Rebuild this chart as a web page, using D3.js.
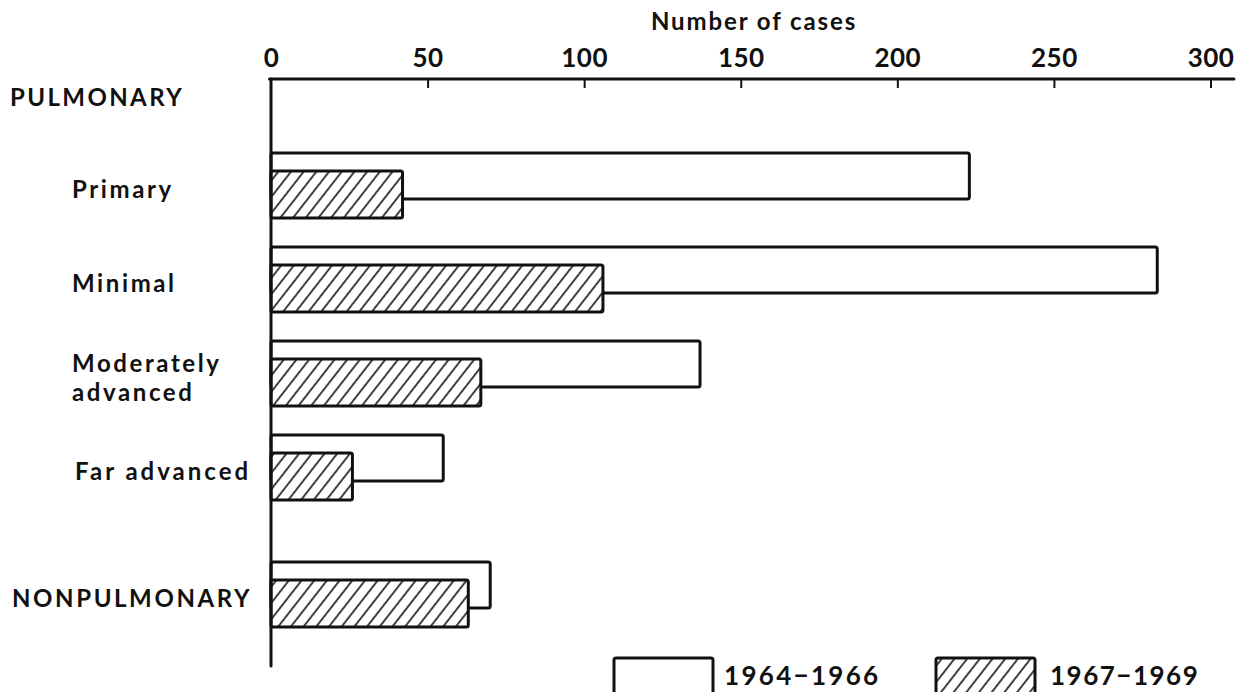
<!DOCTYPE html>
<html lang="en">
<head>
  <meta charset="UTF-8">
  <title>Number of cases</title>
  <style>
    * { margin: 0; padding: 0; box-sizing: border-box; }
    body { background: #fff; width: 1237px; height: 692px; overflow: hidden; }
    svg text { font-family: Lato, "DejaVu Sans", sans-serif; font-weight: 700; fill: #111; }
  </style>
</head>
<body>
  <div id="chart"></div>
  <script src="https://cdnjs.cloudflare.com/ajax/libs/d3/7.8.5/d3.min.js"></script>
  <script>
    // data
    const categories = ["Primary", "Minimal", "Moderately advanced", "Far advanced", "NONPULMONARY"];
    const labelLines = [["Primary"], ["Minimal"], ["Moderately", "advanced"], ["Far advanced"], ["NONPULMONARY"]];
    const groups = ["PULMONARY", "PULMONARY", "PULMONARY", "PULMONARY", "NONPULMONARY"];
    const cases6466 = [223, 283, 137, 55, 70];
    const cases6769 = [42, 106, 67, 26, 63];
    const periods = ["1964\u22121966", "1967\u22121969"];
    const xTicks = [0, 50, 100, 150, 200, 250, 300];

    const width = 1237, height = 692;
    const ink = "#111";

    const svg = d3.select("#chart").append("svg")
      .attr("width", width)
      .attr("height", height);

    // hatch for the later period
    const defs = svg.append("defs");
    defs.append("pattern")
      .attr("id", "hatch")
      .attr("patternUnits", "userSpaceOnUse")
      .attr("width", 10)
      .attr("height", 10)
      .attr("patternTransform", "rotate(38)")
      .append("line")
      .attr("x1", 5).attr("y1", 0)
      .attr("x2", 5).attr("y2", 10)
      .attr("stroke", ink)
      .attr("stroke-width", 1.6);

    const x = d3.scaleLinear().domain([0, 300]).range([271, 1210.5]);

    // rows: pulmonary forms evenly spaced, nonpulmonary pushed down a bit
    const y0 = d3.scalePoint().domain(categories).range([185, 561]);
    const groupGap = 33;
    const y = (c, i) => y0(c) + (groups[i] === "NONPULMONARY" ? groupGap : 0);

    const barH = 46, hatchOffset = 18;

    const rows = categories.map((c, i) => ({
      cat: c, i, a: cases6466[i], b: cases6769[i], lines: labelLines[i], group: groups[i]
    }));

    // earlier period bars (open)
    svg.append("g").selectAll("rect")
      .data(rows)
      .join("rect")
      .attr("x", x(0))
      .attr("y", d => y(d.cat, d.i) - 32)
      .attr("width", d => x(d.a) - x(0))
      .attr("height", barH)
      .attr("rx", 2)
      .attr("fill", "#fff")
      .attr("stroke", ink)
      .attr("stroke-width", 3);

    // later period bars (hatched, in front)
    const hb = svg.append("g").selectAll("g")
      .data(rows)
      .join("g");
    hb.append("rect")
      .attr("x", x(0))
      .attr("y", d => y(d.cat, d.i) - 32 + hatchOffset)
      .attr("width", d => x(d.b) - x(0))
      .attr("height", barH + 1)
      .attr("fill", "#fff");
    hb.append("rect")
      .attr("x", x(0))
      .attr("y", d => y(d.cat, d.i) - 32 + hatchOffset)
      .attr("width", d => x(d.b) - x(0))
      .attr("height", barH + 1)
      .attr("rx", 2)
      .attr("fill", "url(#hatch)")
      .attr("stroke", ink)
      .attr("stroke-width", 3);

    // top axis
    const axis = svg.append("g")
      .attr("transform", "translate(0,79)")
      .call(d3.axisTop(x).tickValues(xTicks).tickSizeInner(-9).tickSizeOuter(0).tickPadding(12));
    axis.select(".domain").remove();
    axis.selectAll(".tick line").attr("stroke", ink).attr("stroke-width", 2)
      .filter(d => d === 0).remove();
    axis.selectAll(".tick text")
      .attr("font-size", 26)
      .attr("font-family", null)
      .attr("letter-spacing", 0.5)
      .attr("fill", ink);

    svg.append("line")
      .attr("x1", x(0) - 1.5).attr("y1", 79)
      .attr("x2", x(307.5)).attr("y2", 79)
      .attr("stroke", ink).attr("stroke-width", 3).attr("stroke-linecap", "round");

    svg.append("line")
      .attr("x1", x(0)).attr("y1", 79)
      .attr("x2", x(0)).attr("y2", 666)
      .attr("stroke", ink).attr("stroke-width", 3).attr("stroke-linecap", "round");

    svg.append("text")
      .attr("x", 754).attr("y", 30)
      .attr("text-anchor", "middle")
      .attr("font-size", 24)
      .attr("letter-spacing", 1.9)
      .text("Number of cases");

    // row labels
    svg.append("text")
      .attr("x", 10).attr("y", 106)
      .attr("font-size", 24)
      .attr("letter-spacing", 2.4)
      .text("PULMONARY");

    const lab = svg.append("g").selectAll("text")
      .data(rows)
      .join("text")
      .attr("y", d => y(d.cat, d.i) + 13 - (d.lines.length - 1) * 14.5)
      .attr("font-size", 24)
      .attr("letter-spacing", d => d.cat === "Far advanced" ? 3 : 2.6);
    lab.selectAll("tspan")
      .data(d => d.lines.map(t => ({ t, x: d.group === "NONPULMONARY" ? 12 : (d.cat === "Far advanced" ? 75 : 72) })))
      .join("tspan")
      .attr("x", t => t.x)
      .attr("dy", (t, j) => j === 0 ? 0 : 29)
      .text(t => t.t);

    // legend
    const legendX = [614, 936];
    const lg = svg.append("g").selectAll("g")
      .data(periods)
      .join("g")
      .attr("transform", (d, i) => `translate(${legendX[i]},658)`);
    lg.append("rect")
      .attr("width", 99).attr("height", 40).attr("rx", 2)
      .attr("fill", (d, i) => i === 0 ? "#fff" : "url(#hatch)")
      .attr("stroke", ink).attr("stroke-width", 3);
    lg.append("text")
      .attr("x", (d, i) => i === 0 ? 110 : 114)
      .attr("y", 27)
      .attr("font-size", 26)
      .attr("letter-spacing", (d, i) => i === 0 ? 2.3 : 1.5)
      .text(d => d);
  </script>
</body>
</html>
